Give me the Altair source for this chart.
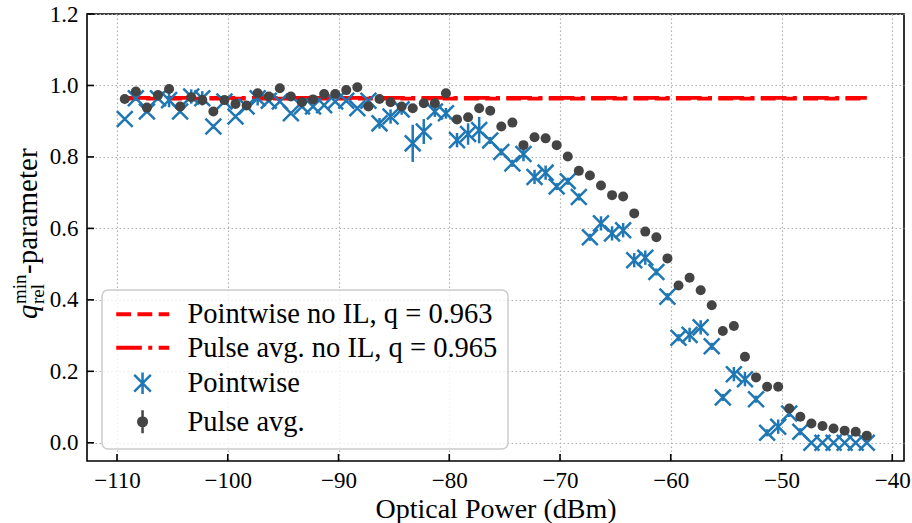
import altair as alt
import pandas as pd

# ---------------- data ----------------
power_dbm = [-109.3, -108.3, -107.3, -106.3, -105.3, -104.3, -103.3, -102.3, -101.3, -100.3,
             -99.3, -98.3, -97.3, -96.3, -95.3, -94.3, -93.3, -92.3, -91.3, -90.3,
             -89.3, -88.3, -87.3, -86.3, -85.3, -84.3, -83.3, -82.3, -81.3, -80.3,
             -79.3, -78.3, -77.3, -76.3, -75.3, -74.3, -73.3, -72.3, -71.3, -70.3,
             -69.3, -68.3, -67.3, -66.3, -65.3, -64.3, -63.3, -62.3, -61.3, -60.3,
             -59.3, -58.3, -57.3, -56.3, -55.3, -54.3, -53.3, -52.3, -51.3, -50.3,
             -49.3, -48.3, -47.3, -46.3, -45.3, -44.3, -43.3, -42.3]

pulse_avg = [0.962, 0.983, 0.938, 0.973, 0.990, 0.941, 0.967, 0.959, 0.927, 0.959,
             0.948, 0.944, 0.978, 0.969, 0.992, 0.969, 0.953, 0.961, 0.976, 0.976,
             0.987, 0.995, 0.941, 0.962, 0.953, 0.941, 0.936, 0.950, 0.950, 0.978,
             0.905, 0.911, 0.936, 0.929, 0.885, 0.896, 0.833, 0.855, 0.852, 0.833,
             0.801, 0.761, 0.748, 0.720, 0.693, 0.689, 0.642, 0.591, 0.575, 0.516,
             0.440, 0.462, 0.427, 0.385, 0.313, 0.327, 0.241, 0.183, 0.157, 0.157,
             0.096, 0.073, 0.054, 0.047, 0.040, 0.034, 0.031, 0.020]

pointwise = [0.906, 0.964, 0.927, 0.964, 0.959, 0.927, 0.969, 0.964, 0.885, 0.955,
             0.913, 0.941, 0.964, 0.957, 0.955, 0.922, 0.941, 0.941, 0.945, 0.955,
             0.957, 0.936, 0.957, 0.894, 0.913, 0.933, 0.838, 0.871, 0.927, 0.922,
             0.847, 0.864, 0.875, 0.846, 0.814, 0.782, 0.808, 0.744, 0.756, 0.717,
             0.732, 0.688, 0.575, 0.614, 0.586, 0.595, 0.511, 0.518, 0.478, 0.409,
             0.294, 0.302, 0.323, 0.270, 0.127, 0.192, 0.178, 0.122, 0.028, 0.045,
             0.082, 0.031, 0.0, 0.0, 0.0, 0.0, 0.0, 0.0]

pointwise_err = [0.004, 0.006, 0.005, 0.006, 0.020, 0.005, 0.020, 0.020, 0.006, 0.005,
                 0.005, 0.005, 0.020, 0.005, 0.005, 0.005, 0.005, 0.005, 0.005, 0.005,
                 0.005, 0.005, 0.005, 0.015, 0.020, 0.015, 0.052, 0.035, 0.015, 0.015,
                 0.020, 0.030, 0.037, 0.010, 0.010, 0.010, 0.020, 0.020, 0.020, 0.010,
                 0.010, 0.010, 0.010, 0.020, 0.020, 0.020, 0.020, 0.020, 0.010, 0.010,
                 0.010, 0.020, 0.020, 0.010, 0.010, 0.020, 0.020, 0.010, 0.010, 0.020,
                 0.010, 0.010, 0.0, 0.0, 0.0, 0.0, 0.0, 0.0]

q_pointwise_no_il = 0.963
q_pulse_no_il = 0.965

x_ticks = [-110, -100, -90, -80, -70, -60, -50, -40]
y_ticks = [0.0, 0.2, 0.4, 0.6, 0.8, 1.0, 1.2]

series_labels = [
    f"Pointwise no IL, q = {q_pointwise_no_il:.3f}",
    f"Pulse avg. no IL, q = {q_pulse_no_il:.3f}",
    "Pointwise",
    "Pulse avg.",
]
series_colors = ["#ff0000", "#ff0000", "#1f77b4", "#444444"]

# ---------------- styles ----------------
FONT = "'Liberation Serif', 'Times New Roman', 'DejaVu Serif', serif"
X_PATH = "M-1,-1L1,1M-1,1L1,-1"
# legend glyphs (unit = 10 px, drawn to the right of the symbol anchor)
LEG_DASHED = ("M-0.875,-0.075H0.355V0.075H-0.875Z"
              "M1.245,-0.075H2.475V0.075H1.245Z"
              "M3.365,-0.075H4.175V0.075H3.365Z")
LEG_DASHDOT = ("M-0.875,-0.075H1.435V0.075H-0.875Z"
               "M2.325,-0.075H2.475V0.075H2.325Z"
               "M3.365,-0.075H4.175V0.075H3.365Z")
LEG_CROSS = "M0.8,-0.83L2.46,0.83M0.8,0.83L2.46,-0.83M1.63,-1.08L1.63,1.08"
LEG_DOT = "M1.2,0A0.43,0.43 0 1,1 2.06,0A0.43,0.43 0 1,1 1.2,0ZM1.63,-1.15L1.63,1.15"
legend_shapes = [LEG_DASHED, LEG_DASHDOT, LEG_CROSS, LEG_DOT]

W, H = 817, 447

xscale = alt.Scale(domain=[-112.71, -38.94], nice=False, zero=False)
yscale = alt.Scale(domain=[-0.051, 1.2], nice=False, zero=False)

xaxis = alt.Axis(values=x_ticks, grid=True, ticks=False, domain=False,
                 labelFontSize=23, labelPadding=8, title="Optical Power (dBm)",
                 titleFontSize=28, titlePadding=3)
yaxis = alt.Axis(values=y_ticks, grid=True, ticks=False, domain=False, format=".1f",
                 labelFontSize=23, labelPadding=9, title=None)

X = alt.X("x:Q", scale=xscale, axis=xaxis)
Y = alt.Y("y:Q", scale=yscale, axis=yaxis)

df = pd.DataFrame({
    "x": power_dbm,
    "pw": pointwise,
    "pa": pulse_avg,
    "err": pointwise_err,
})
df["lo"] = df["pw"] - df["err"]
df["hi"] = df["pw"] + df["err"]

df_l1 = pd.DataFrame({"x": [power_dbm[0], power_dbm[-1]], "y": [q_pointwise_no_il] * 2})
df_l2 = pd.DataFrame({"x": [power_dbm[0], power_dbm[-1]], "y": [q_pulse_no_il] * 2})

line1 = alt.Chart(df_l1).mark_line(color="#ff0000", strokeWidth=3.8,
                                   strokeDash=[14.8, 6.4]).encode(x=X, y=Y)
line2 = alt.Chart(df_l2).mark_line(color="#ff0000", strokeWidth=3.8,
                                   strokeDash=[25.6, 6.4, 4, 6.4]).encode(x=X, y=Y)

errs = alt.Chart(df).mark_rule(color="#1f77b4", strokeWidth=2.5).encode(
    x=X, y=alt.Y("lo:Q", scale=yscale, axis=yaxis), y2="hi:Q")

crosses = alt.Chart(df).mark_point(shape=X_PATH, size=250, stroke="#1f77b4",
                                   strokeWidth=2.5, filled=False, opacity=1).encode(
    x=X, y=alt.Y("pw:Q", scale=yscale, axis=yaxis))

dots = alt.Chart(df).mark_point(shape="circle", size=100, filled=True, fill="#444444",
                                strokeWidth=0, opacity=1).encode(
    x=X, y=alt.Y("pa:Q", scale=yscale, axis=yaxis))

# inward ticks
df_xt = pd.DataFrame({"x": x_ticks})
df_yt = pd.DataFrame({"y": y_ticks})
xt = alt.Chart(df_xt).mark_rule(color="black", strokeWidth=1.6).encode(
    x=X, y=alt.value(H), y2=alt.value(H - 7))
yt = alt.Chart(df_yt).mark_rule(color="black", strokeWidth=1.6).encode(
    y=Y, x=alt.value(0), x2=alt.value(7))

# legend (invisible carrier marks)
leg_legend = alt.Legend(title=None, orient="none", legendX=15, legendY=276)
df_leg = pd.DataFrame({"series": series_labels, "o": [0] * 4})
leg = alt.Chart(df_leg).mark_point(filled=True, strokeWidth=2.5).encode(
    x=alt.value(0), y=alt.value(0),
    shape=alt.Shape("series:N", scale=alt.Scale(domain=series_labels, range=legend_shapes),
                    legend=leg_legend),
    fill=alt.Fill("series:N", scale=alt.Scale(domain=series_labels, range=series_colors),
                  legend=leg_legend),
    stroke=alt.Stroke("series:N", scale=alt.Scale(domain=series_labels, range=series_colors),
                      legend=leg_legend),
    opacity=alt.Opacity("o:Q", scale=None, legend=None),
)

# y axis title: q^{min}_{rel}-parameter
def ttext(txt, size, style, xpix, ypix):
    return alt.Chart(pd.DataFrame({"t": [txt]})).mark_text(
        angle=270, align="left", baseline="alphabetic", font=FONT, fontSize=size,
        fontStyle=style, color="black").encode(
        text="t:N", x=alt.value(xpix), y=alt.value(ypix))

yt_q = ttext("q", 29, "italic", -50, 305)
yt_min = ttext("min", 19, "normal", -61, 290)
yt_rel = ttext("rel", 19, "normal", -43, 290)
yt_param = ttext("-parameter", 29, "normal", -50, 260)

chart = alt.layer(
    line1, line2, errs, crosses, dots, xt, yt, leg, yt_q, yt_min, yt_rel, yt_param
).properties(
    width=W, height=H,
    autosize=alt.AutoSizeParams(type="none"),
    padding={"left": 87, "top": 14, "right": 8, "bottom": 62},
).configure_view(
    stroke="black", strokeWidth=1.6
).configure_axis(
    labelFont=FONT, titleFont=FONT, labelColor="black", titleColor="black",
    titleFontWeight="normal", gridColor="#b0b0b0", gridDash=[1.5, 2.5], gridWidth=1.2,
).configure_legend(
    padding=10, fillColor="rgba(255,255,255,0.8)", strokeColor="#cccccc",
    cornerRadius=6, strokeWidth=1.5, symbolSize=400, symbolStrokeWidth=2.5,
    symbolOpacity=1,
    labelFont=FONT, labelFontSize=28.5, labelColor="black", labelOffset=47,
    rowPadding=4.5, labelLimit=0,
)

chart.save("out.html", embed_options={"renderer": "svg", "actions": False})
